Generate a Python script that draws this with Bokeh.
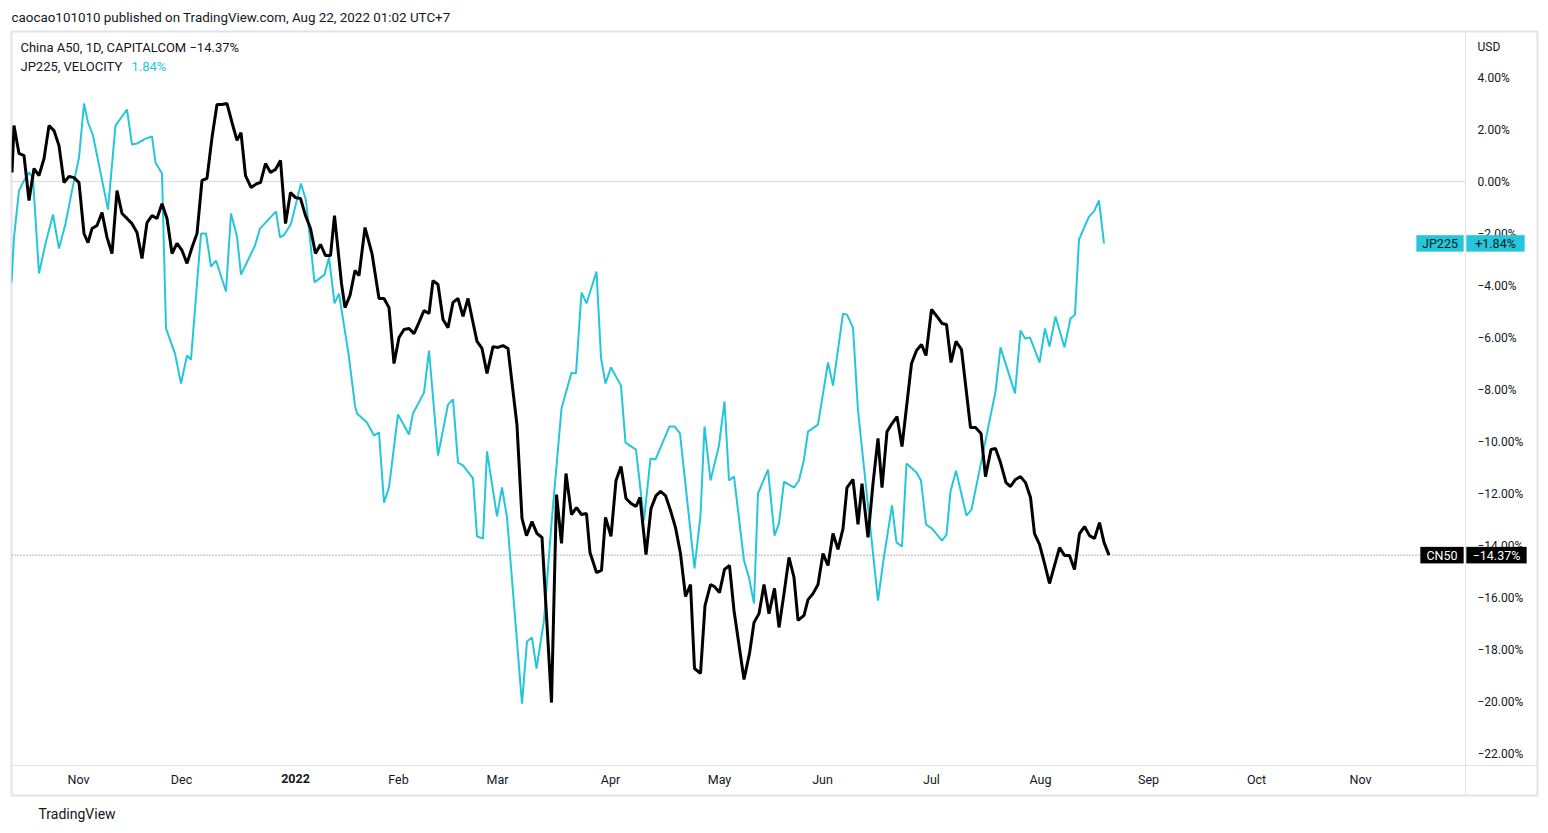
from bokeh.plotting import figure
from bokeh.models import (Range1d, FixedTicker, Label, BoxAnnotation, Span)
from bokeh.embed import file_html
from bokeh.resources import INLINE

# ---------------- data (x = trading-session index, y = % change) ----------------
cn50_x = [0.1, 0.5, 1.5, 2.5, 3.5, 4.5, 5.5, 6.5, 7.5, 8.5,
          9.5, 10.5, 11.5, 12.5, 13.5, 14.5, 15.3, 16.1, 17.1, 18.1,
          19.1, 20.1, 21.1, 22.1, 23.1, 24.1, 25.1, 26.1, 27.1, 28.1,
          29.1, 30.1, 31.1, 32.1, 33.1, 34.1, 35.1, 36.1, 37.1, 38.1,
          39.1, 40.1, 41.1, 42.1, 43.1, 44.1, 45.1, 45.9, 46.8, 47.9,
          49.1, 49.8, 50.8, 51.8, 52.8, 53.8, 54.8, 55.8, 56.8, 57.8,
          58.8, 59.8, 60.8, 61.8, 62.8, 63.8, 64.6, 66.0, 66.7, 67.7,
          68.7, 69.5, 70.7, 72.1, 73.5, 74.5, 75.5, 76.5, 77.5, 78.5,
          79.5, 80.5, 81.5, 82.5, 83.5, 84.3, 85.3, 86.3, 87.3, 88.3,
          89.3, 90.3, 91.3, 92.3, 93.1, 94.1, 95.1, 96.3, 97.3, 98.3,
          99.3, 101.1, 102.1, 103.0, 104.1, 105.1, 106.1, 108.0, 109.0, 110.0,
          110.9, 112.0, 113.0, 114.0, 115.0, 115.7, 117.0, 118.0, 118.8, 119.9,
          120.9, 121.9, 122.9, 123.9, 124.9, 125.7, 126.9, 127.9, 128.9, 129.8,
          130.8, 131.8, 132.8, 133.8, 134.8, 135.8, 136.6, 137.8, 138.7, 139.8,
          140.6, 141.6, 142.6, 143.6, 144.5, 146.5, 147.6, 148.5, 149.5, 150.5,
          151.5, 152.6, 153.5, 154.5, 155.5, 156.5, 157.3, 158.5, 159.3, 160.3,
          161.3, 162.3, 163.3, 164.3, 165.3, 166.3, 167.1, 168.3, 169.3, 170.1,
          171.3, 172.3, 173.3, 174.1, 175.1, 176.1, 177.1, 178.1, 180.0, 181.0,
          182.0, 182.9, 184.0, 185.1, 186.1, 187.0, 187.9, 188.9, 190.0, 191.8,
          192.8, 193.9, 194.8, 195.9, 196.8, 197.8, 198.9, 199.8, 200.8, 201.8,
          202.8, 203.8, 204.6, 205.6, 206.6, 207.6, 208.6, 209.6, 210.6, 211.6,
          212.6, 213.6, 214.6, 215.6, 216.6, 217.6, 218.5, 219.5]
cn50_pct = [0.35, 2.15, 1.08, 1.00, -0.73, 0.50, 0.23, 0.88, 2.15, 1.96,
            1.38, -0.04, 0.19, 0.15, -0.04, -2.00, -2.35, -1.81, -1.69, -1.19,
            -2.15, -2.77, -0.35, -1.23, -1.42, -1.62, -1.96, -2.96, -1.58, -1.31,
            -1.42, -0.85, -1.42, -2.77, -2.38, -2.65, -3.15, -2.54, -2.00, 0.04,
            0.12, 1.69, 2.96, 2.96, 3.00, 2.27, 1.58, 1.88, 0.23, -0.23,
            -0.08, -0.04, 0.69, 0.35, 0.46, 0.81, -1.62, -0.42, -0.62, -0.65,
            -1.31, -1.81, -2.77, -2.42, -2.85, -2.85, -1.31, -3.92, -4.85, -4.38,
            -3.42, -3.62, -1.77, -2.77, -4.50, -4.50, -4.85, -7.00, -6.00, -5.69,
            -5.65, -5.85, -5.42, -4.96, -5.08, -3.81, -3.96, -5.31, -5.62, -4.65,
            -4.50, -5.19, -4.50, -5.42, -6.15, -6.42, -7.38, -6.35, -6.38, -6.31,
            -6.42, -9.38, -12.96, -13.62, -13.08, -13.54, -13.69, -20.04, -12.04, -13.92,
            -11.23, -12.81, -12.54, -12.81, -12.77, -14.27, -15.04, -14.96, -12.92, -13.65,
            -11.50, -10.96, -12.19, -12.38, -12.50, -12.15, -14.35, -12.58, -12.08, -11.92,
            -12.08, -12.65, -13.31, -14.31, -15.96, -15.50, -18.73, -18.92, -16.31, -15.50,
            -15.58, -15.81, -14.92, -14.77, -16.50, -19.15, -18.15, -16.96, -16.62, -15.50,
            -16.62, -15.65, -17.15, -15.85, -14.46, -15.23, -16.88, -16.69, -16.08, -15.85,
            -15.50, -14.31, -14.77, -13.54, -14.15, -13.35, -11.77, -11.46, -13.19, -11.62,
            -13.69, -11.62, -9.88, -11.77, -9.62, -9.31, -9.04, -10.19, -7.00, -6.50,
            -6.27, -6.69, -4.92, -5.19, -5.46, -5.50, -6.96, -6.15, -6.46, -9.46,
            -9.46, -9.69, -11.35, -10.31, -10.27, -10.81, -11.58, -11.73, -11.46, -11.35,
            -11.58, -12.15, -13.54, -13.96, -14.69, -15.46, -14.77, -14.08, -14.38, -14.38,
            -14.92, -13.54, -13.27, -13.62, -13.73, -13.12, -13.88, -14.37]

jp225_x = [0.0, 0.5, 1.5, 2.5, 3.5, 4.3, 5.5, 6.8, 8.3, 9.5,
           10.8, 12.1, 13.5, 14.5, 15.3, 16.3, 17.8, 19.3, 20.8, 23.1,
           24.1, 25.1, 26.8, 28.1, 28.8, 30.1, 30.9, 32.7, 33.9, 35.1,
           35.9, 37.9, 38.9, 39.9, 40.9, 42.9, 43.9, 45.1, 45.9, 48.7,
           49.7, 52.9, 53.7, 54.6, 55.9, 57.9, 58.9, 60.6, 62.6, 63.5,
           64.6, 65.5, 67.4, 68.7, 69.1, 71.1, 72.5, 73.5, 74.5, 75.5,
           77.3, 79.5, 80.3, 82.5, 83.5, 85.3, 87.3, 88.3, 89.3, 90.3,
           92.3, 93.1, 94.3, 95.1, 97.1, 98.1, 99.1, 102.1, 103.1, 104.1,
           105.0, 106.5, 108.0, 110.0, 112.0, 112.9, 114.0, 115.0, 117.0, 117.9,
           118.8, 119.9, 121.9, 122.8, 124.9, 126.5, 127.8, 128.8, 131.6, 132.6,
           133.7, 136.6, 137.8, 138.6, 139.8, 141.5, 142.6, 143.5, 144.5, 146.5,
           147.5, 148.5, 149.3, 151.3, 152.6, 153.5, 154.5, 156.5, 157.5, 158.5,
           159.3, 161.3, 163.3, 164.3, 166.3, 167.1, 168.3, 169.3, 170.5, 173.3,
           174.3, 176.1, 177.0, 178.1, 179.0, 181.0, 181.9, 182.9, 184.1, 186.1,
           187.0, 187.8, 188.9, 191.0, 192.0, 196.8, 197.8, 200.7, 201.8, 202.7,
           203.7, 205.6, 206.7, 207.6, 208.8, 210.6, 211.8, 212.7, 213.5, 215.5,
           216.5, 217.5, 218.5]
jp225_pct = [-3.88, -2.15, -0.35, 0.04, 0.35, 0.12, -3.54, -2.38, -1.27, -2.58,
             -1.62, -0.35, 0.92, 3.00, 2.27, 1.77, 0.35, -1.08, 2.15, 2.77,
             1.42, 1.46, 1.65, 1.73, 0.73, 0.31, -5.65, -6.62, -7.77, -6.69,
             -6.85, -2.00, -2.00, -3.27, -3.04, -4.23, -1.23, -2.12, -3.58, -2.46,
             -1.81, -1.15, -2.15, -2.04, -1.62, -0.08, -0.73, -3.88, -3.58, -2.92,
             -4.69, -4.31, -6.62, -8.62, -8.92, -9.27, -9.77, -9.65, -12.35, -11.77,
             -8.96, -9.73, -8.92, -8.12, -6.50, -10.54, -8.58, -8.38, -10.81, -10.92,
             -11.42, -13.65, -13.73, -10.38, -12.88, -11.77, -12.92, -20.08, -17.69, -17.54,
             -18.73, -16.88, -13.15, -8.73, -7.35, -7.38, -4.27, -4.69, -3.46, -6.77,
             -7.77, -7.15, -7.85, -10.04, -10.31, -13.04, -10.65, -10.69, -9.42, -9.42,
             -9.69, -14.88, -12.85, -9.42, -11.50, -10.15, -8.46, -11.50, -11.35, -14.58,
             -15.23, -16.23, -12.00, -11.08, -13.62, -13.15, -11.54, -11.77, -11.50, -10.69,
             -9.62, -9.35, -6.96, -7.85, -5.08, -5.12, -5.62, -8.81, -11.00, -16.12,
             -14.69, -12.46, -13.88, -14.04, -10.85, -11.19, -11.50, -13.19, -13.35, -13.81,
             -13.58, -11.92, -11.12, -12.85, -12.62, -8.08, -6.38, -8.15, -5.73, -6.04,
             -6.00, -6.96, -5.65, -6.35, -5.19, -6.38, -5.27, -5.12, -2.23, -1.35,
             -1.15, -0.73, -2.38]

month_ticks = [13.4, 34.0, 56.8, 77.4, 97.2, 119.8, 141.6, 162.2, 184.0, 205.8, 227.4, 249.0, 269.8]
month_labels = ["Nov", "Dec", "2022", "Feb", "Mar", "Apr", "May", "Jun", "Jul", "Aug", "Sep", "Oct", "Nov"]
pct_ticks = [4, 2, 0, -2, -4, -6, -8, -10, -12, -14, -16, -18, -20, -22]

cn50_badge = ["CN50", "\u221214.37%"]
jp225_badge = ["JP225", "+1.84%"]

# ---------------- styling ----------------
FONT = "Roboto"
TXT = "#131722"
CYAN = "#26c6da"
BORDER = "#e0e3eb"
PLOT_RIGHT = 290.8      # end of the price pane (x units)
PANE_BOTTOM = -22.46    # bottom of the price pane (y units)

p = figure(width=1548, height=833,
           x_range=Range1d(0, 305.2), y_range=Range1d(-23.615, 5.77),
           output_backend="svg", toolbar_location=None,
           y_axis_location="right",
           min_border_left=11, min_border_right=11,
           min_border_top=31, min_border_bottom=38)
p.grid.visible = False
p.outline_line_color = BORDER
p.outline_line_width = 2
p.background_fill_color = "white"
p.border_fill_color = "white"

ya = p.yaxis[0]
ya.ticker = FixedTicker(ticks=pct_ticks)
ya.major_label_overrides = {t: (f"{t:.2f}%" if t >= 0 else "\u2212" + f"{-t:.2f}%") for t in pct_ticks}
ya.axis_line_color = None
ya.major_tick_line_color = None
ya.minor_tick_line_color = None
ya.major_tick_out = 0
ya.major_tick_in = 0
ya.minor_tick_out = 0
ya.major_label_standoff = -60
ya.major_label_text_font = FONT
ya.major_label_text_font_size = "12px"
ya.major_label_text_color = TXT

xa = p.xaxis[0]
xa.ticker = FixedTicker(ticks=month_ticks)
xa.major_label_overrides = {t: ("" if lab == "2022" else lab) for t, lab in zip(month_ticks, month_labels)}
xa.axis_line_color = None
xa.major_tick_line_color = None
xa.minor_tick_line_color = None
xa.major_tick_out = 0
xa.major_tick_in = 0
xa.minor_tick_out = 0
xa.major_label_standoff = -24
xa.major_label_text_font = FONT
xa.major_label_text_font_size = "12.5px"
xa.major_label_text_color = TXT

for t, lab in zip(month_ticks, month_labels):
    if lab == "2022":
        p.add_layout(Label(x=t, y=-22.96, text=lab, text_align="center", text_baseline="middle",
                           text_font=FONT, text_font_size="12.5px", text_font_style="bold",
                           text_color=TXT))

# pane separators
p.add_layout(Span(location=PLOT_RIGHT, dimension="height", line_color=BORDER, line_width=1))
p.add_layout(Span(location=PANE_BOTTOM, dimension="width", line_color=BORDER, line_width=1))

# reference lines (zero line and last-value dotted line)
p.add_layout(BoxAnnotation(left=0, right=PLOT_RIGHT, top=0, bottom=0, fill_alpha=0,
                           line_color="#b2b5be", line_width=1, level="underlay"))
p.add_layout(BoxAnnotation(left=0, right=281.8, top=cn50_pct[-1], bottom=cn50_pct[-1], fill_alpha=0,
                           line_color="black", line_width=1, line_dash="1 2", level="underlay"))

p.line(jp225_x, jp225_pct, line_color=CYAN, line_width=2)
p.line(cn50_x, cn50_pct, line_color="black", line_width=3)

# price badges
def badge(yv, names, fill, tcolor, l1, r1, l2, r2):
    h = 0.31
    p.add_layout(BoxAnnotation(left=l1, right=r1, top=yv + h, bottom=yv - h,
                               fill_color=fill, fill_alpha=1, line_color=fill))
    p.add_layout(BoxAnnotation(left=l2, right=r2, top=yv + h, bottom=yv - h,
                               fill_color=fill, fill_alpha=1, line_color=fill))
    p.add_layout(Label(x=(l1 + r1) / 2, y=yv, text=names[0], text_align="center", text_baseline="middle",
                       text_font=FONT, text_font_size="12.5px", text_color=tcolor))
    p.add_layout(Label(x=(l2 + r2) / 2, y=yv, text=names[1], text_align="center", text_baseline="middle",
                       text_font=FONT, text_font_size="12.5px", text_color=tcolor))

badge(jp225_pct[-1], jp225_badge, CYAN, TXT, 281.0, 290.4, 291.0, 302.6)
badge(cn50_pct[-1], cn50_badge, "black", "white", 281.8, 290.4, 291.0, 303.0)

# legend text and currency
p.add_layout(Label(x=1.8, y=5.15, text="China A50, 1D, CAPITALCOM  \u221214.37%",
                   text_baseline="middle", text_font=FONT, text_font_size="13px", text_color=TXT))
p.add_layout(Label(x=1.8, y=4.42, text="JP225, VELOCITY",
                   text_baseline="middle", text_font=FONT, text_font_size="13px", text_color=TXT))
p.add_layout(Label(x=24.0, y=4.42, text="1.84%",
                   text_baseline="middle", text_font=FONT, text_font_size="13px", text_color=CYAN))
p.add_layout(Label(x=293.2, y=5.19, text="USD",
                   text_baseline="middle", text_font=FONT, text_font_size="12px", text_color=TXT))

# header (above panel) and footer (below panel)
p.add_layout(Label(x=0, y=6.31, text="caocao101010 published on TradingView.com, Aug 22, 2022 01:02 UTC+7",
                   text_baseline="middle", text_font=FONT, text_font_size="13.4px", text_color=TXT), "above")
p.add_layout(Label(x=5.4, y=-24.31, text="TradingView", text_baseline="middle",
                   text_font=FONT, text_font_size="14px", text_color=TXT), "below")

open("out.html", "w").write(file_html(p, INLINE))
